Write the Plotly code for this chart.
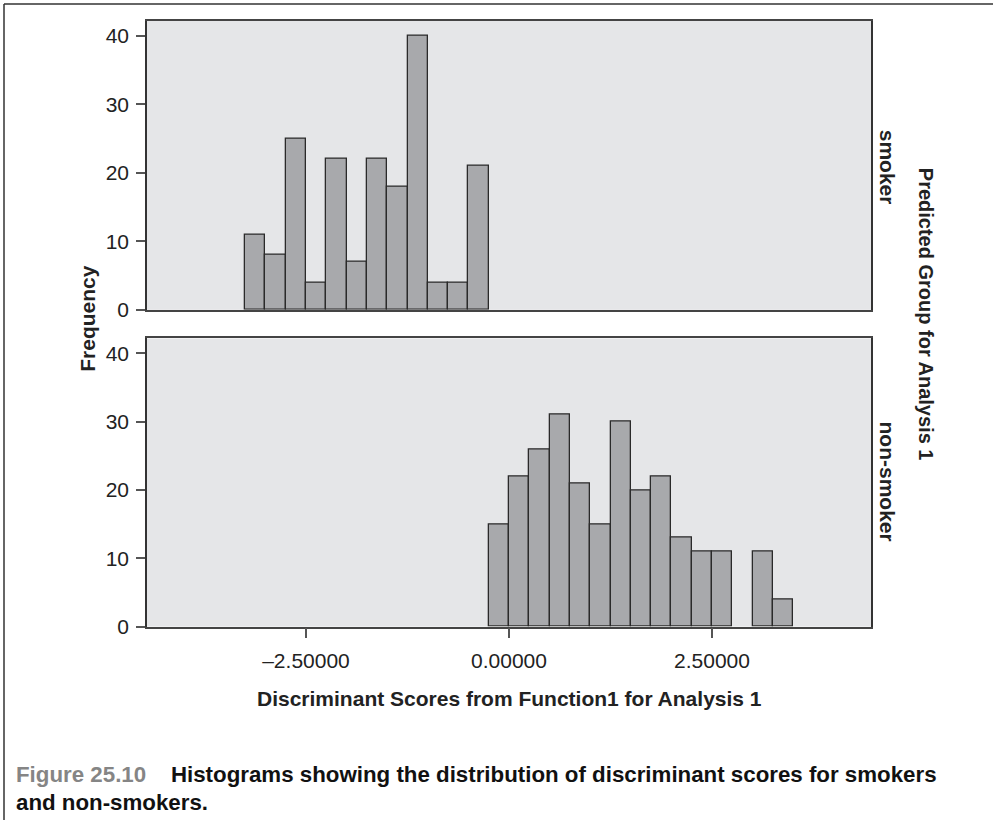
import plotly.graph_objects as go

# ---- data ----
smoker_centers = [-3.125, -2.875, -2.625, -2.375, -2.125, -1.875, -1.625, -1.375, -1.125, -0.875, -0.625, -0.375]
smoker_counts = [11, 8, 25, 4, 22, 7, 22, 18, 40, 4, 4, 21]
nonsmoker_centers = [-0.125, 0.125, 0.375, 0.625, 0.875, 1.125, 1.375, 1.625, 1.875, 2.125, 2.375, 2.625, 3.125, 3.375]
nonsmoker_counts = [15, 22, 26, 31, 21, 15, 30, 20, 22, 13, 11, 11, 11, 4]
bin_width = 0.25
x_tickvals = [-2.5, 0.0, 2.5]
x_ticktext = ["\u20132.50000", "0.00000", "2.50000"]
y_tickvals = [0, 10, 20, 30, 40]
group_labels = ["smoker", "non-smoker"]

W, H = 993, 831
def px_x(p): return p / W
def px_y(p): return 1 - p / H

BAR_FILL = "#a8a9ac"
BAR_LINE = "#2a2a2a"
BG = "#e5e6e8"
FONT = "Liberation Sans, Arial, sans-serif"
TXT = "#222"

fig = go.Figure()
fig.add_trace(go.Bar(x=smoker_centers, y=smoker_counts, width=bin_width,
                     marker=dict(color=BAR_FILL, line=dict(color=BAR_LINE, width=1.3)),
                     xaxis="x", yaxis="y", showlegend=False, hoverinfo="x+y"))
fig.add_trace(go.Bar(x=nonsmoker_centers, y=nonsmoker_counts, width=bin_width,
                     marker=dict(color=BAR_FILL, line=dict(color=BAR_LINE, width=1.3)),
                     xaxis="x2", yaxis="y2", showlegend=False, hoverinfo="x+y"))

xdom = [px_x(147), px_x(871)]
xr = [-4.458, 4.458]
yr = [0, 42.2]
common_y = dict(range=yr, tickvals=y_tickvals, ticks="outside", ticklen=9, tickwidth=1.5,
                tickcolor="#555", showgrid=False, zeroline=False, showline=True, mirror=True,
                linecolor="#333", linewidth=1.5, ticklabelstandoff=3,
                tickfont=dict(family=FONT, size=21, color=TXT))
common_x = dict(range=xr, domain=xdom, showgrid=False, zeroline=False, showline=True,
                mirror=True, linecolor="#444", linewidth=1.6)

fig.update_layout(
    width=W, height=H, margin=dict(l=0, r=0, t=0, b=0),
    paper_bgcolor="white", plot_bgcolor=BG, bargap=0,
    xaxis=dict(**common_x, anchor="y", showticklabels=False, ticks=""),
    yaxis=dict(**common_y, domain=[px_y(314), px_y(21)], anchor="x"),
    xaxis2=dict(**common_x, anchor="y2", tickvals=x_tickvals, ticktext=x_ticktext,
                ticks="outside", ticklen=10, tickwidth=1.5, tickcolor="#555", ticklabelstandoff=4,
                tickfont=dict(family=FONT, size=21, color=TXT)),
    yaxis2=dict(**common_y, domain=[px_y(635), px_y(343)], anchor="x2"),
)

ann = []
ann.append(dict(text="<b>Frequency</b>", x=px_x(88), y=px_y(323), xref="paper", yref="paper",
                textangle=-90, showarrow=False, font=dict(family=FONT, size=21, color=TXT),
                xanchor="center", yanchor="middle"))
ann.append(dict(text="<b>Discriminant Scores from Function1 for Analysis 1</b>", x=px_x(509), y=px_y(708),
                xref="paper", yref="paper", showarrow=False,
                font=dict(family=FONT, size=21, color=TXT), xanchor="center", yanchor="middle"))
ann.append(dict(text="<b>" + group_labels[0] + "</b>", x=px_x(887), y=px_y(169), xref="paper", yref="paper",
                textangle=90, showarrow=False, font=dict(family=FONT, size=21, color=TXT),
                xanchor="center", yanchor="middle"))
ann.append(dict(text="<b>" + group_labels[1] + "</b>", x=px_x(887), y=px_y(488), xref="paper", yref="paper",
                textangle=90, showarrow=False, font=dict(family=FONT, size=21, color=TXT),
                xanchor="center", yanchor="middle"))
ann.append(dict(text="<b>Predicted Group for Analysis 1</b>", x=px_x(926), y=px_y(318), xref="paper", yref="paper",
                textangle=90, showarrow=False, font=dict(family=FONT, size=20, color=TXT),
                xanchor="center", yanchor="middle"))
CAP = "Liberation Sans Narrow, Arial Narrow, sans-serif"
ann.append(dict(text="<b><span style='color:#858585'>Figure 25.10</span>&nbsp;&nbsp;&nbsp;&nbsp;Histograms showing the distribution of discriminant scores for smokers</b>",
                x=px_x(14), y=px_y(785), xref="paper", yref="paper", showarrow=False,
                font=dict(family=CAP, size=22.3, color="#111"), xanchor="left", yanchor="middle"))
ann.append(dict(text="<b>and non-smokers.</b>",
                x=px_x(14), y=px_y(813), xref="paper", yref="paper", showarrow=False,
                font=dict(family=CAP, size=22.3, color="#111"), xanchor="left", yanchor="middle"))
fig.update_layout(annotations=ann)

fig.update_layout(shapes=[
    dict(type="line", xref="paper", yref="paper", x0=px_x(4), x1=1, y0=px_y(4), y1=px_y(4),
         line=dict(color="#333", width=1.5)),
    dict(type="line", xref="paper", yref="paper", x0=px_x(4), x1=px_x(4), y0=px_y(4), y1=0,
         line=dict(color="#333", width=1.5)),
])

fig.write_html("out.html")
